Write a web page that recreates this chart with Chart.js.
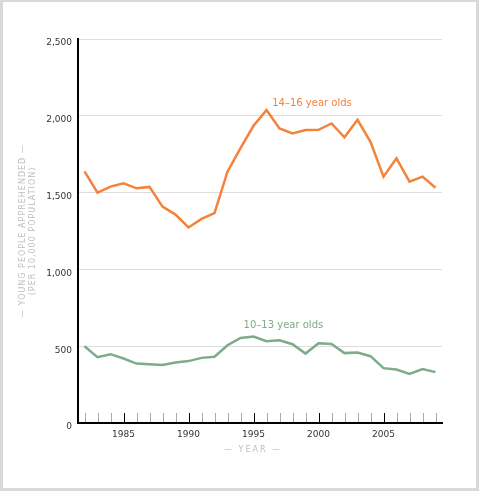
<!DOCTYPE html>
<html>
<head>
<meta charset="utf-8">
<script src="https://cdn.jsdelivr.net/npm/chart.js@4.4.1/dist/chart.umd.min.js"></script>
<style>
    html, body { margin: 0; padding: 0; background: #fff; }
    #wrap { width: 479px; height: 491px; position: relative; }
</style>
</head>
<body>
<div id="wrap"><canvas id="youthChart"></canvas></div>
<script>
// years on the x axis
const years = [1982, 1983, 1984, 1985, 1986, 1987, 1988, 1989, 1990, 1991, 1992, 1993, 1994, 1995,
    1996, 1997, 1998, 1999, 2000, 2001, 2002, 2003, 2004, 2005, 2006, 2007, 2008, 2009];

// young people apprehended per 10,000 population
const olds14to16 = [1638, 1500, 1539, 1560, 1528, 1537, 1409, 1357, 1273, 1329, 1366, 1636, 1790, 1935,
    2037, 1918, 1885, 1907, 1909, 1950, 1860, 1974, 1831, 1604, 1723, 1571, 1604, 1532];
const olds10to13 = [500, 429, 448, 420, 387, 383, 377, 394, 403, 424, 431, 506, 554, 563,
    532, 539, 513, 452, 519, 515, 455, 459, 435, 357, 348, 320, 351, 331];

const yTicks = [0, 500, 1000, 1500, 2000, 2500];

const ORANGE = '#f5823a';
const GREEN = '#7eab8a';

// frame, inner tick marks, axis titles and series labels
const decorPlugin = {
    id: 'decor',
    beforeDraw: function(chart) {
        const ctx = chart.ctx;
        ctx.save();
        ctx.fillStyle = '#fff';
        ctx.fillRect(0, 0, chart.width, chart.height);
        ctx.fillStyle = '#d9d9d9';
        ctx.fillRect(0, 0, 3, chart.height);
        ctx.fillRect(chart.width - 3, 0, 3, chart.height);
        ctx.fillRect(0, 0, chart.width, 2);
        ctx.fillRect(0, chart.height - 3, chart.width, 3);
        ctx.restore();
    },
    afterDatasetsDraw: function(chart) {
        const ctx = chart.ctx;
        const x = chart.scales.x;
        const y = chart.scales.y;
        const area = chart.chartArea;
        ctx.save();
        // year tick marks drawn upward from the axis
        ctx.lineWidth = 1;
        for (let i = 0; i < years.length; i++) {
            const px = Math.round(x.getPixelForValue(i)) + 0.5;
            ctx.strokeStyle = years[i] % 5 === 0 ? '#000' : '#aaa';
            ctx.beginPath();
            ctx.moveTo(px, area.bottom - 1);
            ctx.lineTo(px, area.bottom - 10);
            ctx.stroke();
        }
        // series labels
        ctx.font = '10px "DejaVu Sans"';
        ctx.textAlign = 'center';
        ctx.textBaseline = 'middle';
        ctx.fillStyle = ORANGE;
        ctx.fillText('14\u201316 year olds', x.getPixelForValue(17.5), y.getPixelForValue(2080));
        ctx.fillStyle = GREEN;
        ctx.fillText('10\u201313 year olds', x.getPixelForValue(15.3), y.getPixelForValue(636));
        // axis titles
        ctx.fillStyle = '#bdbdbd';
        ctx.font = '8px "DejaVu Sans"';
        ctx.letterSpacing = '2px';
        ctx.fillText('\u2014 YEAR \u2014', 253, 450);
        ctx.letterSpacing = '1px';
        ctx.translate(28, 231);
        ctx.rotate(-Math.PI / 2);
        ctx.fillText('\u2014 YOUNG PEOPLE APPREHENDED \u2014', 0, -5);
        ctx.fillText('(PER 10,000 POPULATION)', 0, 5);
        ctx.restore();
    }
};

const ctx = document.getElementById('youthChart');
const youthChart = new Chart(ctx, {
    type: 'line',
    data: {
        labels: years,
        datasets: [{
            label: '14-16 year olds',
            data: olds14to16,
            borderColor: ORANGE,
            borderWidth: 2.5,
            pointRadius: 0,
            tension: 0,
            fill: false
        }, {
            label: '10-13 year olds',
            data: olds10to13,
            borderColor: GREEN,
            borderWidth: 2.5,
            pointRadius: 0,
            tension: 0,
            fill: false
        }]
    },
    plugins: [decorPlugin],
    options: {
        responsive: true,
        maintainAspectRatio: false,
        animation: false,
        layout: {
            padding: { left: 0, top: 39, right: 37, bottom: 0 }
        },
        plugins: {
            legend: { display: false },
            tooltip: { enabled: false }
        },
        scales: {
            x: {
                type: 'category',
                offset: true,
                grid: { display: false, drawTicks: false },
                border: { display: true, color: '#000', width: 2 },
                ticks: {
                    autoSkip: false,
                    maxRotation: 0,
                    padding: 6,
                    color: '#333',
                    font: { family: '"DejaVu Sans"', size: 9 },
                    callback: function(value, index) {
                        return years[index] % 5 === 0 ? String(years[index]) : '';
                    }
                },
                afterFit: function(scale) { scale.height = 68; }
            },
            y: {
                min: 0,
                max: 2500,
                afterBuildTicks: function(scale) {
                    scale.ticks = yTicks.map(function(v) { return { value: v }; });
                },
                grid: { color: '#dddddd', lineWidth: 1, drawTicks: false },
                border: { display: true, color: '#000', width: 2 },
                ticks: {
                    padding: 6,
                    labelOffset: 4,
                    color: '#333',
                    font: { family: '"DejaVu Sans"', size: 9 },
                    callback: function(value) { return value.toLocaleString('en-US'); }
                },
                afterFit: function(scale) { scale.width = 78; }
            }
        }
    }
});
</script>
</body>
</html>
